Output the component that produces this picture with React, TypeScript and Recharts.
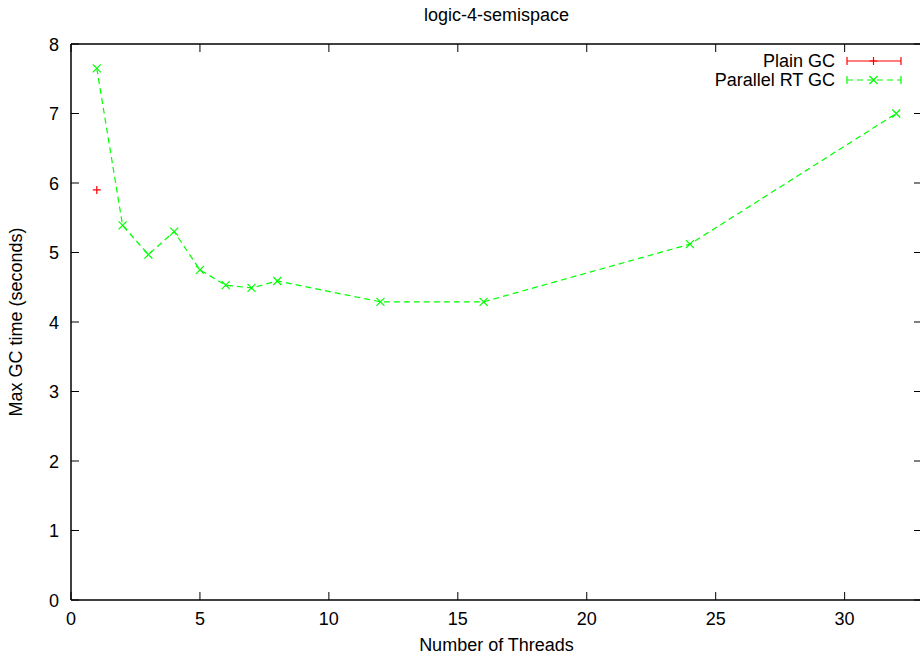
import React from 'react'
import { LineChart, Line, XAxis, YAxis } from 'recharts'

const threads = [1, 2, 3, 4, 5, 6, 7, 8, 12, 16, 24, 32]
const parallelRtGc = [7.65, 5.39, 4.97, 5.3, 4.75, 4.53, 4.49, 4.59, 4.29, 4.29, 5.12, 7.0]
const plainGc = [5.9]
const xTicks = [0, 5, 10, 15, 20, 25, 30]
const yTicks = [0, 1, 2, 3, 4, 5, 6, 7, 8]

const data = threads.map((t, i) => ({
  threads: t,
  parallel: parallelRtGc[i],
  plain: plainGc[i] ?? null,
}))

const FONT = '"Liberation Sans", Arial, sans-serif'
const RED = '#ff0000'
const GREEN = '#00ff00'
const TICK = 8

const PlusDot = ({ cx, cy }: any) => {
  if (cx == null || cy == null) return null
  return <path d={`M${cx - 4},${cy}h8M${cx},${cy - 4}v8`} stroke={RED} strokeWidth={1.2} fill="none" />
}

const CrossDot = ({ cx, cy }: any) => {
  if (cx == null || cy == null) return null
  return (
    <path
      d={`M${cx - 4},${cy - 4}L${cx + 4},${cy + 4}M${cx - 4},${cy + 4}L${cx + 4},${cy - 4}`}
      stroke={GREEN}
      strokeWidth={1.2}
      fill="none"
    />
  )
}

const BottomTick = ({ x, y, payload }: any) => (
  <g>
    <line x1={x} x2={x} y1={y} y2={y - TICK} stroke="#000" strokeWidth={1} />
    <text x={x} y={y + 25} textAnchor="middle" fontSize={18} fontFamily={FONT} fill="#000">
      {payload.value}
    </text>
  </g>
)

const TopTick = ({ x, y }: any) => (
  <line x1={x} x2={x} y1={y} y2={y + TICK} stroke="#000" strokeWidth={1} />
)

const LeftTick = ({ x, y, payload }: any) => (
  <g>
    <line x1={x} x2={x + TICK} y1={y} y2={y} stroke="#000" strokeWidth={1} />
    <text x={x - 12} y={y + 6.5} textAnchor="end" fontSize={18} fontFamily={FONT} fill="#000">
      {payload.value}
    </text>
  </g>
)

const RightTick = ({ x, y }: any) => (
  <line x1={x} x2={x - TICK} y1={y} y2={y} stroke="#000" strokeWidth={1} />
)

const YLabel = ({ viewBox }: any) => {
  const cy = viewBox.y + viewBox.height / 2
  return (
    <text
      transform={`translate(22,${cy}) rotate(-90)`}
      textAnchor="middle"
      fontSize={18}
      fontFamily={FONT}
      fill="#000"
    >
      Max GC time (seconds)
    </text>
  )
}

const LegendBox = () => (
  <svg width={220} height={44} style={{ position: 'absolute', left: 700, top: 49 }}>
    <g fontFamily={FONT} fontSize={18} fill="#000">
      <text x={135} y={18} textAnchor="end">Plain GC</text>
      <text x={135} y={37} textAnchor="end">Parallel RT GC</text>
    </g>
    <g stroke={RED} strokeWidth={1.2} fill="none">
      <path d="M147,12H201M147,8v8M201,8v8" />
      <path d="M173.5,8v8M169.5,12h8" />
    </g>
    <g stroke={GREEN} strokeWidth={1.2} fill="none">
      <path d="M147,31H201" strokeDasharray="6 4" />
      <path d="M147,27v8M201,27v8" />
      <path d="M169.5,27L177.5,35M169.5,35L177.5,27" />
    </g>
  </svg>
)

export default function App() {
  return (
    <div style={{ position: 'absolute', left: 0, top: 0, width: 920, height: 657, overflow: 'hidden', background: '#fff' }}>
      <LineChart width={923} height={657} data={data} margin={{ top: 43, right: 0, bottom: 0, left: 0 }}>
        <XAxis
          dataKey="threads"
          type="number"
          domain={[0, 33]}
          ticks={xTicks}
          allowDataOverflow
          height={57}
          tickSize={0}
          tickMargin={0}
          tick={BottomTick}
          axisLine={{ stroke: '#000', strokeWidth: 1.5 }}
          label={{ value: 'Number of Threads', position: 'insideBottom', offset: 6, fontSize: 18, fontFamily: FONT, fill: '#000' }}
        />
        <XAxis
          xAxisId="top"
          dataKey="threads"
          orientation="top"
          type="number"
          domain={[0, 33]}
          ticks={xTicks}
          allowDataOverflow
          height={1}
          tickSize={0}
          tickMargin={0}
          tick={TopTick}
          axisLine={{ stroke: '#000', strokeWidth: 1.5 }}
          label={{ value: 'logic-4-semispace', position: 'top', offset: 22, fontSize: 18, fontFamily: FONT, fill: '#000' }}
        />
        <YAxis
          type="number"
          domain={[0, 8]}
          ticks={yTicks}
          width={71}
          tickSize={0}
          tickMargin={0}
          tick={LeftTick}
          axisLine={{ stroke: '#000', strokeWidth: 1.5 }}
          label={<YLabel />}
        />
        <YAxis
          yAxisId="right"
          orientation="right"
          type="number"
          domain={[0, 8]}
          ticks={yTicks}
          width={1}
          tickSize={0}
          tickMargin={0}
          tick={RightTick}
          axisLine={{ stroke: '#000', strokeWidth: 1.5 }}
        />
        <Line
          xAxisId="top"
          yAxisId="right"
          dataKey="plain"
          name="Plain GC"
          stroke={RED}
          strokeWidth={1.2}
          dot={<PlusDot />}
          activeDot={false}
          isAnimationActive={false}
        />
        <Line
          dataKey="parallel"
          name="Parallel RT GC"
          stroke={GREEN}
          strokeWidth={1.2}
          strokeDasharray="6 4"
          dot={<CrossDot />}
          activeDot={false}
          isAnimationActive={false}
        />
      </LineChart>
      <LegendBox />
    </div>
  )
}
